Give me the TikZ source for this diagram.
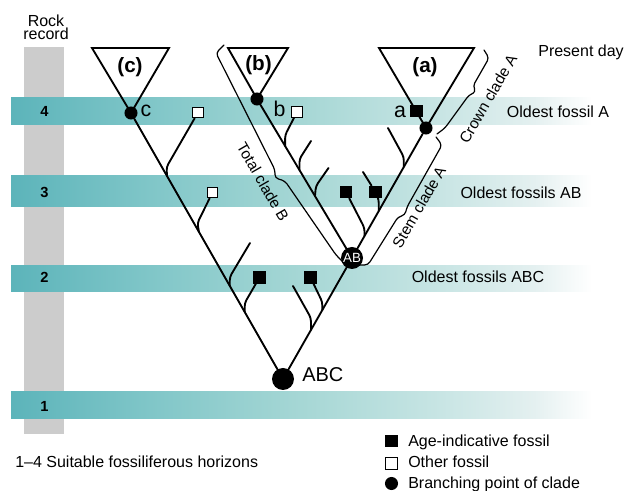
\documentclass[tikz,border=0pt]{standalone}
\usepackage{fontspec}
\setmainfont{Liberation Sans}
\usetikzlibrary{calc}

\definecolor{rockgray}{RGB}{204,204,204}
\definecolor{bandA}{RGB}{92,180,186}
\definecolor{bandB}{RGB}{128,198,200}
\definecolor{bandC}{RGB}{166,215,213}
\definecolor{bandD}{RGB}{200,229,228}
\definecolor{bandE}{RGB}{228,240,240}
\pgfdeclarehorizontalshading{bandfade}{100bp}{color(0bp)=(bandA); color(25bp)=(bandA); color(37bp)=(bandB); color(50bp)=(bandC); color(62bp)=(bandD); color(70bp)=(bandE); color(75bp)=(white); color(100bp)=(white)}

\pgfdeclarelayer{under}
\pgfdeclarelayer{strokes}
\pgfsetlayers{under,strokes,main}

\begin{document}
\begin{tikzpicture}[x=0.75pt,y=-0.75pt,
  lineage/.style={line width=1.4pt,line cap=round},
  twig/.style={line width=1.4pt,rounded corners=2.5pt,line cap=round,line join=round},
  bracket/.style={line width=0.9pt,rounded corners=2.6pt,line cap=round,line join=round},
  clade/.style={line width=1.4pt,line join=miter},
  knot/.style={circle,fill=black,inner sep=0pt,minimum size=9.8pt},
  bigknot/.style={circle,fill=black,inner sep=0pt,minimum size=16.5pt},
  agefossil/.style={rectangle,fill=black,inner sep=0pt,minimum size=9.2pt},
  otherfossil/.style={rectangle,fill=white,draw=black,line width=0.9pt,inner sep=0pt,minimum size=7.8pt},
  txt/.style={inner sep=0pt,font=\fontsize{12}{12}\selectfont},
  horizon/.style={inner sep=0pt,font=\bfseries\fontsize{11}{11}\selectfont},
  cladename/.style={inner sep=0pt,font=\bfseries\fontsize{15.5}{15.5}\selectfont},
  taxon/.style={inner sep=0pt,font=\fontsize{16}{16}\selectfont},
  spanlabel/.style={inner sep=0pt,font=\fontsize{11.5}{11.5}\selectfont},
  horizonband/.style={shading=bandfade}
]
\useasboundingbox (0,0) rectangle (626,491);

% rock column and fossiliferous horizons
\begin{pgfonlayer}{under}
  \fill[white] (0,0) rectangle (626,491);
  \fill[rockgray] (24,47) rectangle (64,434);
  \shade[horizonband] (11,98) rectangle (592,125);
  \shade[horizonband] (11,176) rectangle (592,207);
  \shade[horizonband] (11,266) rectangle (592,292);
  \shade[horizonband] (11,392) rectangle (592,419);
\end{pgfonlayer}

\node[txt,anchor=base] (rock1) at (46,26.7) {Rock};
\node[txt,anchor=base] (rock2) at (46,40) {record};
\node[horizon,anchor=base] (h4) at (44.5,116.7) {4};
\node[horizon,anchor=base] (h3) at (44.5,198) {3};
\node[horizon,anchor=base] (h2) at (44.5,283) {2};
\node[horizon,anchor=base] (h1) at (44.5,411.7) {1};

% branching points
\node[knot] (dc) at (131,113) {};
\node[knot] (db) at (257,99) {};
\node[knot] (da) at (426,128) {};
\node[bigknot,font=\fontsize{10}{10}\selectfont,text=white] (dab) at (352,258) {AB};
\node[bigknot] (dabc) at (283,379) {};

% fossils
\node[otherfossil] (f1) at (198,112.5) {};
\node[otherfossil] (f2) at (212.5,192.5) {};
\node[agefossil] (f4) at (259.5,277.5) {};
\node[agefossil] (f6) at (310.5,277.5) {};
\node[otherfossil] (f7) at (297,112) {};
\node[agefossil] (f10) at (346,192) {};
\node[agefossil] (f11) at (375.5,192) {};
\node[agefossil] (fa) at (416.5,111) {};

\begin{pgfonlayer}{strokes}
  % crown groups
  \draw[clade] (92,48) -- (169,48) -- (dc.center) -- cycle;
  \draw[clade] (228,48) -- (288,48) -- (db.center) -- cycle;
  \draw[clade] (379,48) -- (474,48) -- (da.center) -- cycle;

  % stem lineages
  \draw[lineage] (dc) -- (dabc);
  \draw[lineage] (db) -- (dab);
  \draw[lineage] (da) -- (dab);
  \draw[lineage] (dab) -- (dabc);

  % side branches along lineage C
  \coordinate (j1) at ($(dc.center)!0.237!(dabc.center)$);
  \coordinate (j2) at ($(dc.center)!0.447!(dabc.center)$);
  \coordinate (j3) at ($(dc.center)!0.650!(dabc.center)$);
  \coordinate (j4) at ($(dc.center)!0.748!(dabc.center)$);
  \coordinate (e3) at (250,243);
  \draw[twig] (j1) -- ++(-0.5,-9) -- (f1);
  \draw[twig] (j2) -- ++(-1.5,-9) -- (f2);
  \draw[twig] (j3) -- ++(0,-9) -- (e3);
  \draw[twig] (j4) -- ++(0,-9) -- (f4);

  % side branches along lineage AB-ABC
  \coordinate (j5) at ($(dab.center)!0.595!(dabc.center)$);
  \coordinate (j6) at ($(dab.center)!0.43!(dabc.center)$);
  \coordinate (e5) at (293,286);
  \draw[twig] (j5) -- ++(0,-12) -- (e5);
  \draw[twig] (j6) -- ++(0,-8) -- (f6);

  % side branches along lineage B
  \coordinate (j7) at ($(db.center)!0.296!(dab.center)$);
  \coordinate (j8) at ($(db.center)!0.447!(dab.center)$);
  \coordinate (j9) at ($(db.center)!0.61!(dab.center)$);
  \coordinate (e8) at (311,141);
  \coordinate (e9) at (328.5,168);
  \draw[twig] (j7) -- ++(0,-11) -- (f7);
  \draw[twig] (j8) -- ++(0,-11) -- (e8);
  \draw[twig] (j9) -- ++(1,-10) -- (e9);

  % side branches along lineage A
  \coordinate (j10) at ($(da.center)!0.831!(dab.center)$);
  \coordinate (j11) at ($(da.center)!0.638!(dab.center)$);
  \coordinate (j12) at ($(da.center)!0.30!(dab.center)$);
  \coordinate (e11) at (363,172);
  \coordinate (e12) at (388,128);
  \draw[twig] (j10) -- ++(0,-8) -- (f10);
  \draw[twig] (j11) -- ++(0,-11) -- (f11) -- (e11);
  \draw[twig] (j12) -- ++(0,-10) -- (e12);

  % clade braces
  \draw[bracket] (224,45) -- (216,53) -- (275,170) -- (275,178) -- (285,181) -- (336,255) -- (346,265);
  \draw[bracket] (360,265) -- (368,265) -- (398,217) -- (405,215) -- (407,207) -- (442,145) -- (436,137);
  \draw[bracket] (437,134) -- (445,128) -- (469,95) -- (476,92) -- (473,86) -- (489,58) -- (484,50);
\end{pgfonlayer}

% clade and taxon labels
\node[cladename] (lc) at (130,67) {(c)};
\node[cladename] (lb) at (258.5,65.5) {(b)};
\node[cladename] (la) at (425,67.5) {(a)};
\node[taxon,anchor=base] (tc) at (146,116.7) {c};
\node[taxon,anchor=base] (tb) at (279.5,117) {b};
\node[taxon,anchor=base] (ta) at (400,118) {a};
\node[inner sep=0pt,font=\fontsize{15}{15}\selectfont,anchor=base west] (tabc) at (302,381.7) {ABC};

\node[spanlabel,rotate=-60] (totalB) at (263,182) {Total clade B};
\node[spanlabel,rotate=60] (stemA) at (419,207) {Stem clade A};
\node[spanlabel,rotate=60] (crownA) at (488,99) {Crown clade A};

% horizon captions
\node[txt,anchor=base east] (present) at (624,57) {Present day};
\node[txt,anchor=base] (oldA) at (558,118) {Oldest fossil A};
\node[txt,anchor=base] (oldAB) at (521,199) {Oldest fossils AB};
\node[txt,anchor=base] (oldABC) at (478,283) {Oldest fossils ABC};

% key
\node[txt,anchor=base west] (note) at (15,468) {1--4 Suitable fossiliferous horizons};
\node[agefossil,minimum size=9.6pt] (k1) at (391.5,441) {};
\node[otherfossil,minimum size=8.6pt] (k2) at (391.5,463.5) {};
\node[knot] (k3) at (391.5,483.5) {};
\node[txt,anchor=base west] (k1t) at (408,446.7) {Age-indicative fossil};
\node[txt,anchor=base west] (k2t) at (408,468) {Other fossil};
\node[txt,anchor=base west] (k3t) at (408,489) {Branching point of clade};
\end{tikzpicture}
\end{document}
